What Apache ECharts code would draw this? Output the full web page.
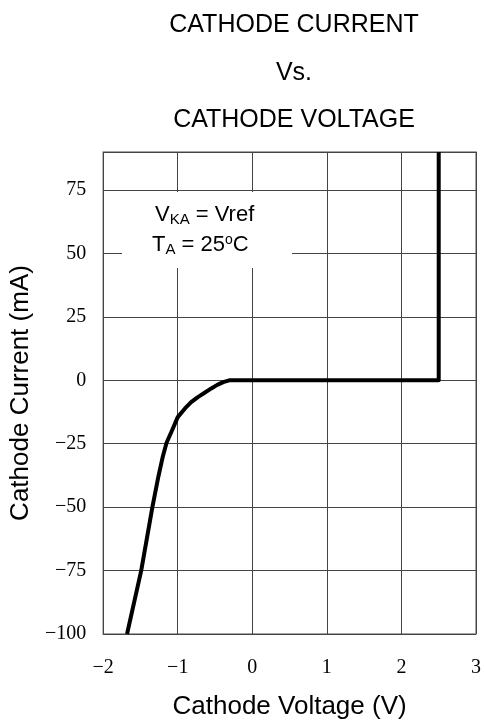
<!DOCTYPE html>
<html>
<head>
<meta charset="utf-8">
<script src="https://cdn.jsdelivr.net/npm/echarts@6/dist/echarts.min.js"></script>
<style>html,body{margin:0;padding:0;background:#fff}#c{width:484px;height:726px}</style>
</head>
<body>
<div id="c"></div>
<script>
const titleLines = ['CATHODE CURRENT', 'Vs.', 'CATHODE VOLTAGE'];
const xAxisName = 'Cathode Voltage (V)';
const yAxisName = 'Cathode Current (mA)';
const voltage = [-1.68, -1.49, -1.34, -1.26, -1.20, -1.15, -1.08, -1.0, -0.90, -0.82, -0.73, -0.64, -0.55, -0.47, -0.39, -0.31, 2.5, 2.5];
const current = [-100, -75, -50, -38, -30, -24.6, -20, -14.5, -11, -8.6, -6.6, -4.9, -3.2, -1.8, -0.7, 0, 0, 90];
const xRange = [-2, 3];
const yRange = [-100, 90];

const chart = echarts.init(document.getElementById('c'), null, {renderer: 'canvas'});
const fmt = v => String(v).replace('-', '\u2212');
const tStyle = {fontFamily: 'Liberation Sans', fontSize: 25, fontWeight: 'normal', color: '#000'};
chart.setOption({
  animation: false,
  backgroundColor: '#fff',
  title: [
    {text: titleLines[0], left: 289, top: 8, textAlign: 'center', textStyle: tStyle},
    {text: titleLines[1], left: 289, top: 56, textAlign: 'center', textStyle: tStyle},
    {text: titleLines[2], left: 289, top: 103, textAlign: 'center', textStyle: tStyle}
  ],
  grid: {left: 101, right: 6, top: 152, bottom: 92, show: true, borderColor: '#888', borderWidth: 1.5, backgroundColor: 'transparent'},
  xAxis: {
    type: 'value', min: xRange[0], max: xRange[1], interval: 1,
    name: xAxisName, nameLocation: 'middle', nameGap: 60,
    nameTextStyle: {fontFamily: 'Liberation Sans', fontSize: 26, color: '#000'},
    axisLine: {show: false},
    axisTick: {show: false},
    axisLabel: {formatter: fmt, fontFamily: 'Liberation Serif', fontSize: 20, color: '#000', margin: 24},
    splitLine: {show: true, lineStyle: {color: '#444', width: 1}}
  },
  yAxis: {
    type: 'value', min: yRange[0], max: yRange[1], interval: 25,
    name: yAxisName, nameLocation: 'middle', nameGap: 69,
    nameTextStyle: {fontFamily: 'Liberation Sans', fontSize: 26, color: '#000'},
    axisLine: {show: false},
    axisTick: {show: false},
    axisLabel: {formatter: fmt, showMaxLabel: false, fontFamily: 'Liberation Serif', fontSize: 20, color: '#000', margin: 17},
    splitLine: {show: true, lineStyle: {color: '#444', width: 1}}
  },
  graphic: [
    {type: 'rect', left: 122, top: 192, z: 60, silent: true, shape: {width: 170, height: 76}, style: {fill: '#fff'}},
    {type: 'text', left: 155, top: 204, z: 70, silent: true,
      style: {text: '{n|V}{s|KA}{n| = Vref}', rich: {n: {fontFamily: 'Liberation Sans', fontSize: 22, color: '#000'}, s: {fontFamily: 'Liberation Sans', fontSize: 15, color: '#000', padding: [10, 0, 0, 0]}}}},
    {type: 'text', left: 152, top: 233, z: 70, silent: true,
      style: {text: '{n|T}{s|A}{n| = 25}{o|o}{n|C}', rich: {n: {fontFamily: 'Liberation Sans', fontSize: 22, color: '#000'}, s: {fontFamily: 'Liberation Sans', fontSize: 15, color: '#000', padding: [10, 0, 0, 0]}, o: {fontFamily: 'Liberation Sans', fontSize: 14, color: '#000', padding: [0, 0, 9, 0]}}}}
  ],
  series: [{
    type: 'line', data: voltage.map((v, i) => [v, current[i]]),
    showSymbol: false, z: 80,
    lineStyle: {color: '#000', width: 4, join: 'round'}
  }]
});
</script>
</body>
</html>
